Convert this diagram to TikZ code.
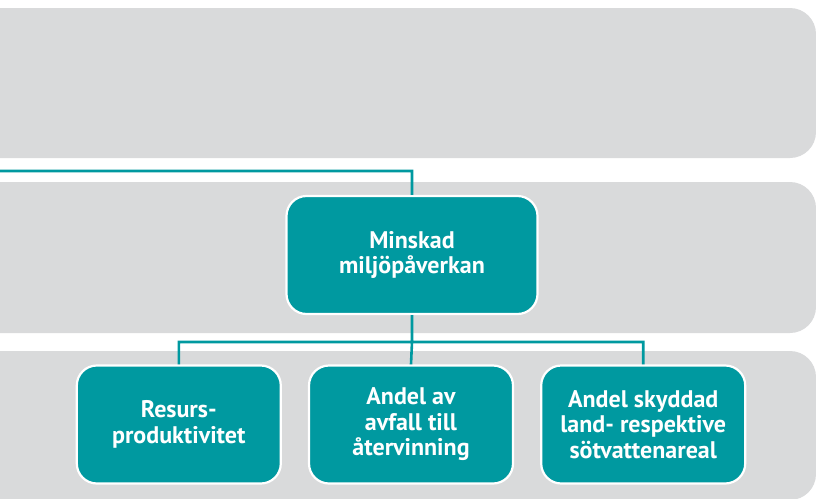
\documentclass[tikz,border=0pt]{standalone}
\usepackage{fontspec}
\setmainfont{PT Sans}
\usetikzlibrary{positioning}
\definecolor{teal}{RGB}{0,153,160}
\definecolor{band}{RGB}{217,218,219}

\begin{document}
\begin{tikzpicture}[x=1pt,y=-1pt,node distance=26pt,
    box/.style={draw=white,line width=2.2pt,fill=teal,rounded corners=20pt,
      minimum width=204pt,minimum height=118pt,align=center,text=white,
      font=\fontsize{24}{25.5}\selectfont\bfseries},
    link/.style={draw=teal,line width=2.6pt}]
  \clip (0,0) rectangle (816,498);
  \fill[band,rounded corners=26pt] (-40,8)   rectangle (816,158);
  \fill[band,rounded corners=26pt] (-40,182) rectangle (816,333);
  \fill[band,rounded corners=26pt] (-40,351) rectangle (816,500);

  \node[box,minimum width=251pt] (minskad) at (412,255) {Minskad\\miljöpåverkan};
  \node[box] (avfall) at (411,424.5) {Andel av\\avfall till\\återvinning};
  \node[box] (resurs) [left=of avfall]  {Resurs-\\produktivitet};
  \node[box] (skydd)  [right=of avfall] {Andel skyddad\\land- respektive\\sötvattenareal};
  \coordinate (ut) at (-5,171);
  \coordinate (gren) at (412,342);

  \path[link] (minskad.north) |- (ut)
              (minskad.south) -- (gren)
              (gren) -| (resurs.north)
              (gren) -| (skydd.north)
              (gren) -- (avfall.north);
\end{tikzpicture}
\end{document}
